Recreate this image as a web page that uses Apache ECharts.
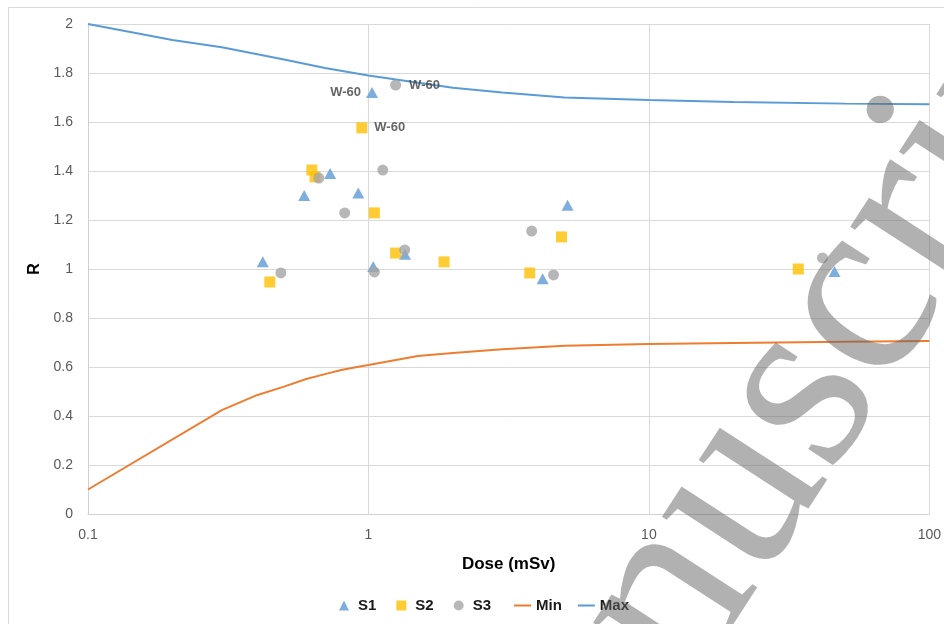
<!DOCTYPE html>
<html>
<head>
<meta charset="utf-8">
<script src="https://cdn.jsdelivr.net/npm/echarts@6/dist/echarts.min.js"></script>
<style>
  html, body { margin: 0; padding: 0; background: #ffffff; }
  #chart { width: 944px; height: 624px; }
</style>
</head>
<body>
<div id="chart"></div>
<script>
// Measured ratio R against dose for three sets of measurements
const s1Dose = [0.42, 0.59, 0.73, 0.92, 1.03, 1.04, 1.35, 4.18, 5.13, 45.9];
const s1R    = [1.03, 1.30, 1.39, 1.31, 1.72, 1.01, 1.06, 0.96, 1.26, 0.99];
const s1Tags = ['', '', '', '', 'W-60', '', '', '', '', ''];

const s2Dose = [0.445, 0.628, 0.645, 0.947, 1.05, 1.25, 1.86, 3.76, 4.88, 34.1];
const s2R    = [0.947, 1.404, 1.376, 1.576, 1.229, 1.065, 1.029, 0.984, 1.131, 1.00];
const s2Tags = ['', '', '', 'W-60', '', '', '', '', '', ''];

const s3Dose = [0.487, 0.665, 0.823, 1.125, 1.05, 1.25, 1.347, 3.82, 4.57, 41.6];
const s3R    = [0.984, 1.371, 1.229, 1.404, 0.988, 1.751, 1.078, 1.155, 0.976, 1.045];
const s3Tags = ['', '', '', '', '', 'W-60', '', '', '', ''];

// Lower and upper limit curves
const minDose = [0.1, 0.3, 0.4, 0.5, 0.6, 0.7, 0.8, 0.9, 1, 1.5, 2, 3, 5, 10, 20, 50, 100];
const minR    = [0.10, 0.424, 0.485, 0.520, 0.551, 0.571, 0.588, 0.599, 0.608, 0.645, 0.657, 0.672, 0.687, 0.694, 0.698, 0.703, 0.706];
const maxDose = [0.1, 0.2, 0.3, 0.5, 0.7, 1, 2, 3, 5, 10, 20, 50, 100];
const maxR    = [2.00, 1.935, 1.905, 1.855, 1.82, 1.79, 1.74, 1.72, 1.70, 1.69, 1.682, 1.675, 1.672];

const yTickMin = 0, yTickMax = 2, yTickStep = 0.2;
const xTickMin = 0.1, xTickMax = 100;

const C_S1 = '#5b9bd5', C_S2 = '#ffc000', C_S3 = '#a5a5a5', C_MIN = '#ed7d31', C_MAX = '#5b9bd5';
const FONT = '"Liberation Sans", Arial, sans-serif';

function points(xs, ys, tags, pos, dist) {
  return xs.map((x, i) => {
    const item = { value: [x, ys[i]] };
    if (tags && tags[i]) {
      item.label = {
        show: true, formatter: tags[i], position: pos, distance: dist,
        color: '#404040', fontWeight: 'bold', fontSize: 13, fontFamily: FONT
      };
    }
    return item;
  });
}
function linePoints(xs, ys) { return xs.map((x, i) => [x, ys[i]]); }

const legendText = { color: '#1a1a1a', fontWeight: 'bold', fontSize: 15, fontFamily: FONT };

const chart = echarts.init(document.getElementById('chart'), null, { renderer: 'canvas' });

chart.setOption({
  backgroundColor: '#ffffff',
  animation: false,
  grid: { left: 88, right: 14, top: 24, bottom: 110, containLabel: false },
  xAxis: {
    type: 'log', logBase: 10, min: xTickMin, max: xTickMax,
    name: 'Dose (mSv)', nameLocation: 'middle', nameGap: 42,
    nameTextStyle: { color: '#000000', fontWeight: 'bold', fontSize: 17, fontFamily: FONT },
    axisLine: { show: true, lineStyle: { color: '#d0d0d0', width: 1 } },
    axisTick: { show: false },
    axisLabel: { color: '#595959', fontSize: 14, fontFamily: FONT, margin: 14 },
    splitLine: { show: true, lineStyle: { color: '#d9d9d9', width: 1 } },
    minorTick: { show: false }, minorSplitLine: { show: false }
  },
  yAxis: {
    type: 'value', min: yTickMin, max: yTickMax, interval: yTickStep,
    name: 'R', nameLocation: 'middle', nameGap: 38, nameRotate: 90,
    nameTextStyle: { color: '#000000', fontWeight: 'bold', fontSize: 16, fontFamily: FONT },
    axisLine: { show: true, lineStyle: { color: '#d0d0d0', width: 1 } },
    axisTick: { show: false },
    axisLabel: { color: '#595959', fontSize: 14, fontFamily: FONT, margin: 15 },
    splitLine: { show: true, lineStyle: { color: '#d9d9d9', width: 1 } }
  },
  legend: [
    {
      data: [
        { name: 'S1', icon: 'triangle' },
        { name: 'S2', icon: 'rect' },
        { name: 'S3', icon: 'circle' }
      ],
      left: 334, top: 593, orient: 'horizontal',
      itemWidth: 10, itemHeight: 10, itemGap: 20,
      textStyle: Object.assign({ padding: [0, 0, 0, 4] }, legendText)
    },
    {
      data: [
        { name: 'Min', icon: 'rect' },
        { name: 'Max', icon: 'rect' }
      ],
      left: 509, top: 593, orient: 'horizontal',
      itemWidth: 17, itemHeight: 2, itemGap: 16,
      textStyle: legendText
    }
  ],
  series: [
    {
      name: 'S1', type: 'scatter', symbol: 'triangle', symbolSize: [12, 11],
      itemStyle: { color: C_S1 }, z: 3,
      data: points(s1Dose, s1R, s1Tags, 'left', 5)
    },
    {
      name: 'S2', type: 'scatter', symbol: 'rect', symbolSize: 11,
      itemStyle: { color: C_S2 }, z: 4,
      data: points(s2Dose, s2R, s2Tags, 'right', 7)
    },
    {
      name: 'S3', type: 'scatter', symbol: 'circle', symbolSize: 11,
      itemStyle: { color: C_S3 }, z: 5,
      data: points(s3Dose, s3R, s3Tags, 'right', 8)
    },
    {
      name: 'Min', type: 'line', symbol: 'none', smooth: false,
      lineStyle: { color: C_MIN, width: 2 }, itemStyle: { color: C_MIN }, z: 2,
      data: linePoints(minDose, minR)
    },
    {
      name: 'Max', type: 'line', symbol: 'none', smooth: false,
      lineStyle: { color: C_MAX, width: 2 }, itemStyle: { color: C_MAX }, z: 2,
      data: linePoints(maxDose, maxR)
    }
  ],
  graphic: [
    {
      type: 'rect', silent: true, z: -10,
      shape: { x: 8.5, y: 7.5, width: 1000, height: 1000 },
      style: { fill: 'none', stroke: '#d9d9d9', lineWidth: 1 }
    },
    {
      // diagonal "Manuscript" stamp across the right side
      type: 'text', silent: true, z: 100,
      x: 765, y: 451, rotation: 57 * Math.PI / 180,
      style: {
        text: 'Manuscript',
        font: '258px "Liberation Serif", "DejaVu Serif", serif',
        fill: 'rgba(100,100,100,0.5)',
        textAlign: 'center', align: 'center',
        textVerticalAlign: 'middle', verticalAlign: 'middle'
      }
    }
  ]
});
</script>
</body>
</html>
